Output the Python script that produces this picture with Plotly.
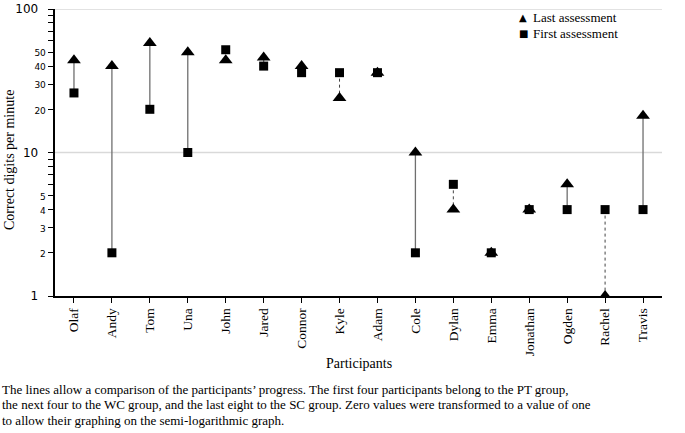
import plotly.graph_objects as go

participants = ["Olaf", "Andy", "Tom", "Una", "John", "Jared", "Connor", "Kyle",
                "Adam", "Cole", "Dylan", "Emma", "Jonathan", "Ogden", "Rachel", "Travis"]
first_assessment = [26, 2, 20, 10, 52, 40, 36, 36, 36, 2, 6, 2, 4, 4, 4, 4]
last_assessment = [44, 40, 58, 50, 44, 46, 40, 24, 36, 10, 4, 2, 4, 6, 1, 18]

tick_values = [1, 2, 3, 4, 5, 6, 7, 8, 9, 10, 20, 30, 40, 50, 60, 70, 80, 90, 100]
big_labels = {1: "1", 10: "10", 100: "100"}
small_labels = {2: "2", 3: "3", 4: "4", 5: "5", 20: "20", 30: "30", 40: "40", 50: "50"}

caption_lines = [
    "The lines allow a comparison of the participants\u2019 progress. The first four participants belong to the PT group,",
    "the next four to the WC group, and the last eight to the SC group. Zero values were transformed to a value of one",
    "to allow their graphing on the semi-logarithmic graph.",
]

SERIF = "Liberation Serif, Times New Roman, serif"
SANS = "DejaVu Sans, sans-serif"


def tick_label(v):
    if v in big_labels:
        return '<span style="font-size:12px">' + big_labels[v] + "\u00a0\u00a0</span>"
    if v in small_labels:
        return '<span style="font-size:9px">' + small_labels[v] + "</span>"
    return ""


# connector segments
sx, sy, dx, dy = [], [], [], []
for p, f, l in zip(participants, first_assessment, last_assessment):
    if l > f:
        sx += [p, p, None]; sy += [f, l, None]
    elif l < f:
        dx += [p, p, None]; dy += [f, l, None]

fig = go.Figure()
fig.add_trace(go.Scatter(x=sx, y=sy, mode="lines", line=dict(color="#6f6f6f", width=1.3),
                         showlegend=False, hoverinfo="skip"))
fig.add_trace(go.Scatter(x=dx, y=dy, mode="lines", line=dict(color="#444444", width=1, dash="dot"),
                         showlegend=False, hoverinfo="skip"))
fig.add_trace(go.Scatter(x=participants, y=last_assessment, mode="markers", name="Last assessment",
                         marker=dict(symbol="triangle-up", size=12, color="black"), showlegend=False))
fig.add_trace(go.Scatter(x=participants, y=first_assessment, mode="markers", name="First assessment",
                         marker=dict(symbol="square", size=9, color="black"), showlegend=False))

fig.update_layout(
    width=685, height=433,
    margin=dict(l=55, r=23, t=9, b=137),
    plot_bgcolor="white", paper_bgcolor="white",
    font=dict(family=SERIF, size=13, color="black"),
    showlegend=False,
    xaxis=dict(
        type="category", categoryorder="array", categoryarray=participants,
        range=[-0.5, len(participants) - 0.5], automargin=False,
        showline=True, linecolor="black", linewidth=1.5, mirror=False,
        ticks="outside", ticklen=5, tickcolor="black", tickwidth=1,
        tickangle=-90, tickfont=dict(family=SERIF, size=13.5),
        showgrid=False, zeroline=False,
    ),
    yaxis=dict(
        type="log", range=[0, 2], automargin=False,
        tickmode="array", tickvals=tick_values, ticktext=[tick_label(v) for v in tick_values],
        tickfont=dict(family=SANS, size=12),
        ticks="outside", ticklen=5, tickcolor="black", tickwidth=1,
        showline=True, linecolor="black", linewidth=1.5,
        showgrid=False, zeroline=False,
    ),
)

# horizontal gridlines at decades
for v in [10, 100]:
    fig.add_shape(type="line", xref="paper", yref="y", x0=0, x1=1, y0=v, y1=v,
                  line=dict(color="#d9d9d9", width=1.5), layer="below")

# legend (drawn as text)
legend_items = [("\u25B2", "Last assessment", 18), ("\u25A0", "First assessment", 34)]
for glyph, label, ypx in legend_items:
    fig.add_annotation(text=glyph, xref="paper", yref="paper", x=(523 - 55) / 607,
                       y=1 - (ypx - 9) / 287, xanchor="center", yanchor="middle", showarrow=False,
                       font=dict(family=SANS, size=10))
    fig.add_annotation(text=label, xref="paper", yref="paper", x=(531 - 55) / 607,
                       y=1 - (ypx - 9) / 287, xanchor="left", yanchor="middle", showarrow=False,
                       font=dict(family=SERIF, size=13))

# y axis title
fig.add_annotation(text="Correct digits per minute", textangle=-90, xref="paper", yref="paper",
                   x=-46 / 607, y=1 - (160 - 9) / 287, xanchor="center", yanchor="middle",
                   showarrow=False, font=dict(family=SERIF, size=14))
# x axis title
fig.add_annotation(text="Participants", xref="paper", yref="paper",
                   x=0.5, y=-(363 - 296) / 287, xanchor="center", yanchor="middle", showarrow=False,
                   font=dict(family=SERIF, size=14))
# caption
for i, line in enumerate(caption_lines):
    fig.add_annotation(text=line, xref="paper", yref="paper",
                       x=-55 / 607, y=-(389 + 15.5 * i - 296) / 287, xanchor="left", yanchor="middle",
                       showarrow=False, font=dict(family=SERIF, size=13))

fig.write_html("out.html", config={"displayModeBar": False},
               post_script="document.body.style.margin='0';")
